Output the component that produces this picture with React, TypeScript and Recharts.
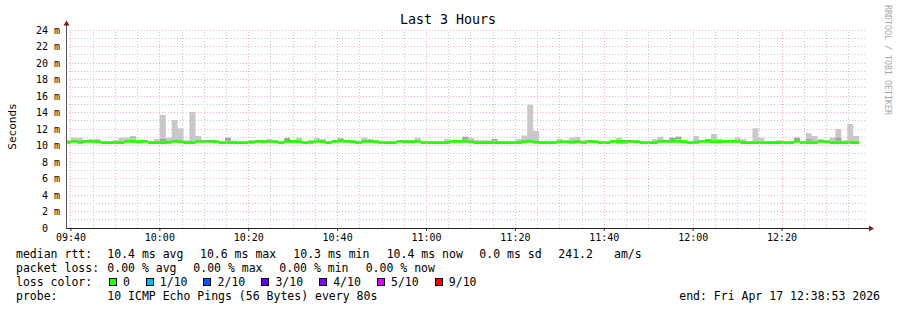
import React from 'react'
import { ComposedChart, Area, XAxis, YAxis, ReferenceLine } from 'recharts'

// rrd step and time window, seconds after midnight
const STEP = 80
const FIRST_SAMPLE = 9 * 3600 + 38 * 60 + 40
const START = 9 * 3600 + 38 * 60 + 53
const END = 12 * 3600 + 38 * 60 + 53

// median rtt per step, ms
const median = [
	10.4, 10.5, 10.4, 10.5, 10.5, 10.45, 10.35, 10.35, 10.35, 10.35, 10.5, 10.5, 10.45, 10.5, 10.35, 10.35, 10.35, 10.4, 10.5, 10.45, 10.35, 10.35, 10.5, 10.5, 10.5, 10.45, 10.35,
	10.35, 10.35, 10.35, 10.35, 10.4, 10.5, 10.45, 10.5, 10.45, 10.35, 10.5, 10.5, 10.45, 10.35, 10.4, 10.5, 10.45, 10.35, 10.5, 10.55, 10.5, 10.45, 10.35, 10.5, 10.5, 10.45, 10.35,
	10.35, 10.35, 10.5, 10.45, 10.45, 10.5, 10.35, 10.35, 10.35, 10.35, 10.35, 10.5, 10.5, 10.5, 10.45, 10.35, 10.35, 10.35, 10.35, 10.35, 10.35, 10.35, 10.35, 10.45, 10.5, 10.4, 10.35,
	10.35, 10.35, 10.45, 10.45, 10.4, 10.45, 10.35, 10.5, 10.45, 10.35, 10.35, 10.5, 10.5, 10.5, 10.5, 10.45, 10.35, 10.35, 10.35, 10.5, 10.5, 10.5, 10.5, 10.45, 10.35, 10.4, 10.5,
	10.5, 10.45, 10.45, 10.5, 10.5, 10.5, 10.35, 10.35, 10.35, 10.35, 10.35, 10.35, 10.35, 10.35, 10.35, 10.5, 10.35, 10.35, 10.35, 10.5, 10.45, 10.35, 10.35, 10.35, 10.35, 10.35,
]

// slowest ping per step (top of the smoke), ms
const smokeTop = [
	10.6, 10.95, 10.95, 10.6, 10.8, 10.8, 10.45, 10.45, 10.65, 10.95, 10.95, 11.1, 10.65, 10.6, 10.5, 10.8, 13.7, 10.95, 13.1, 12.1, 10.65, 14.05, 11.15, 10.6, 10.6, 10.55, 10.45,
	10.95, 10.6, 10.45, 10.45, 10.65, 10.6, 10.65, 10.8, 10.65, 10.45, 10.9, 10.6, 10.95, 10.5, 10.65, 10.95, 10.8, 10.45, 10.6, 10.85, 10.6, 10.65, 10.45, 10.95, 10.8, 10.65, 10.45,
	10.45, 10.45, 10.6, 10.65, 10.55, 10.95, 10.45, 10.45, 10.45, 10.45, 10.8, 10.6, 10.65, 11.05, 10.9, 10.65, 10.65, 10.65, 10.8, 10.5, 10.5, 10.5, 10.8, 11.2, 14.95, 11.75, 10.45,
	10.45, 10.45, 10.8, 10.55, 10.95, 11.05, 10.65, 10.6, 10.55, 10.45, 10.45, 10.6, 10.95, 10.6, 10.6, 10.55, 10.45, 10.45, 10.8, 11.05, 10.6, 10.95, 11.05, 10.6, 10.45, 11.15, 10.6,
	10.8, 11.4, 10.8, 10.6, 10.6, 10.95, 10.8, 10.45, 12.1, 10.95, 10.45, 10.45, 10.65, 10.45, 10.45, 10.95, 10.45, 11.5, 11.15, 10.8, 10.65, 10.95, 12.0, 10.65, 12.6, 11.15,
]

// steps where several pings overlap (darker smoke)
const darkSamples = [11, 16, 27, 37, 46, 67, 72, 93, 94, 102, 103, 108, 123, 125, 128, 130]
const darkLow = [10.95, 10.55, 10.6, 10.6, 10.7, 10.75, 10.6, 10.2, 10.2, 10.6, 10.8, 10.6, 10.6, 10.6, 10.6, 10.6]
const darkHigh = [11.1, 10.8, 10.9, 10.9, 10.85, 11.05, 10.8, 10.32, 10.32, 10.95, 11.05, 10.8, 10.95, 10.8, 10.65, 10.95]

const timeTicks = ['09:40', '10:00', '10:20', '10:40', '11:00', '11:20', '11:40', '12:00', '12:20']
const yTicks = [0, 2, 4, 6, 8, 10, 12, 14, 16, 18, 20, 22, 24]
const yMinor = [1, 3, 5, 7, 9, 11, 13, 15, 17, 19, 21, 23]

const lossLabels = ['0', '1/10', '2/10', '3/10', '4/10', '5/10', '9/10']
const lossColors = ['#26ff00', '#00b8ff', '#0059ff', '#5e00ff', '#7e00ff', '#dd00ff', '#ff0000']

const MONO = '"DejaVu Sans Mono", monospace'
const GREEN = '#26ff00'

const toSec = (s: string) => {
	const [h, m] = s.split(':').map(Number)
	return h * 3600 + m * 60
}
const fmtTime = (v: number) => {
	const h = Math.floor(v / 3600)
	const m = Math.floor((v % 3600) / 60)
	return `${String(h).padStart(2, '0')}:${String(m).padStart(2, '0')}`
}

const majorTimes = timeTicks.map(toSec)
const minorTimes: number[] = []
for (let t = majorTimes[0]; t <= END; t += 300) {
	if (!majorTimes.includes(t)) minorTimes.push(t)
}

const rows = median.map((m, i) => {
	const d = darkSamples.indexOf(i)
	return {
		t: FIRST_SAMPLE + i * STEP,
		smoke: [m - 0.1, Math.max(smokeTop[i], m)],
		dark: d >= 0 ? [darkLow[d], darkHigh[d]] : [m, m],
		med: [m - 0.18, m + 0.18],
	}
})
const lastRow = rows[rows.length - 1]
const data = [...rows, { ...lastRow, t: lastRow.t + STEP }]

// layout
const W = 897
const H = 310
const PLOT_LEFT = 66
const PLOT_TOP = 30
const PLOT_RIGHT = 866
const PLOT_BOTTOM = 228
const Y_AXIS_W = 60
const X_AXIS_H = 30

const CHAR_W = 7.0
const legendFont = { fontFamily: MONO, fontSize: 11.5, fill: '#000', whiteSpace: 'pre' as const }

const Overlay = () => {
	let x = 108.7
	const loss = lossLabels.map((label, i) => {
		const item = { box: x, text: x + 14.3, label, color: lossColors[i] }
		x = item.text + label.length * CHAR_W + 15.5
		return item
	})
	return (
		<svg width={W} height={H} style={{ position: 'absolute', left: 0, top: 0, pointerEvents: 'none' }}>
			<text x={448} y={24} textAnchor="middle" style={{ fontFamily: MONO, fontSize: 13.3, fill: '#000' }}>Last 3 Hours</text>
			<text x={16} y={126.5} textAnchor="middle" transform="rotate(-90 16 126.5)" style={{ fontFamily: MONO, fontSize: 11, fill: '#000' }}>Seconds</text>
			<text x={885} y={5} transform="rotate(90 885 5)" style={{ fontFamily: MONO, fontSize: 8.3, fill: '#a8a8a8' }}>RRDTOOL / TOBI OETIKER</text>

			<line x1={PLOT_LEFT + 0.5} y1={PLOT_BOTTOM + 0.5} x2={PLOT_LEFT + 0.5} y2={24} stroke="#555" />
			<line x1={PLOT_LEFT} y1={PLOT_BOTTOM + 0.5} x2={PLOT_RIGHT + 4} y2={PLOT_BOTTOM + 0.5} stroke="#222" />
			<polygon points={`${PLOT_LEFT - 2.5},25.5 ${PLOT_LEFT + 3.5},25.5 ${PLOT_LEFT + 0.5},20.5`} fill="#8b1a1a" />
			<polygon points={`${PLOT_RIGHT + 3},${PLOT_BOTTOM - 2.5} ${PLOT_RIGHT + 3},${PLOT_BOTTOM + 3.5} ${PLOT_RIGHT + 8},${PLOT_BOTTOM + 0.5}`} fill="#8b1a1a" />

			<text x={16} y={258} style={legendFont}>median rtt:</text>
			<text x={107.3} y={258} style={legendFont}>10.4 ms avg</text>
			<text x={200} y={258} style={legendFont}>10.6 ms max</text>
			<text x={293.3} y={258} style={legendFont}>10.3 ms min</text>
			<text x={386.7} y={258} style={legendFont}>10.4 ms now</text>
			<text x={479.3} y={258} style={legendFont}>0.0 ms sd</text>
			<text x={558.3} y={258} style={legendFont}>241.2</text>
			<text x={614} y={258} style={legendFont}>am/s</text>

			<text x={16} y={272} style={legendFont}>packet loss:</text>
			<text x={107.3} y={272} style={legendFont}>0.00 % avg</text>
			<text x={193.3} y={272} style={legendFont}>0.00 % max</text>
			<text x={279.3} y={272} style={legendFont}>0.00 % min</text>
			<text x={365.7} y={272} style={legendFont}>0.00 % now</text>

			<text x={16} y={286} style={legendFont}>loss color:</text>
			{loss.map((l) => (
				<g key={l.label}>
					<rect x={Math.round(l.box) + 0.5} y={278.5} width={7} height={7} fill={l.color} stroke="#000" />
					<text x={l.text} y={286} style={legendFont}>{l.label}</text>
				</g>
			))}

			<text x={16} y={300} style={legendFont}>probe:</text>
			<text x={107.3} y={300} style={legendFont}>10 ICMP Echo Pings (56 Bytes) every 80s</text>
			<text x={880} y={300} textAnchor="end" style={legendFont}>end: Fri Apr 17 12:38:53 2026</text>
		</svg>
	)
}

const App = () => {
	return (
		<div style={{ position: 'absolute', left: 0, top: 0, width: W, height: H, background: '#fff' }}>
			<ComposedChart
				width={W}
				height={H}
				data={data}
				margin={{
					top: PLOT_TOP,
					right: W - PLOT_RIGHT,
					bottom: H - PLOT_BOTTOM - X_AXIS_H,
					left: PLOT_LEFT - Y_AXIS_W,
				}}
			>
				<XAxis
					dataKey="t"
					type="number"
					domain={[START, END]}
					allowDataOverflow
					ticks={majorTimes}
					tickFormatter={fmtTime}
					height={X_AXIS_H}
					axisLine={false}
					tickLine={{ stroke: '#333' }}
					tickSize={3}
					tickMargin={3}
					tick={{ fontFamily: MONO, fontSize: 10, fill: '#000' }}
				/>
				<YAxis
					type="number"
					domain={[0, 24]}
					ticks={yTicks}
					interval={0}
					tickFormatter={(v: number) => (v === 0 ? '0\u00a0\u00a0' : `${v} m`)}
					width={Y_AXIS_W}
					axisLine={false}
					tickLine={false}
					tickSize={2}
					tickMargin={4}
					tick={{ fontFamily: MONO, fontSize: 10, fill: '#000' }}
				/>
				{yMinor.map((v) => (
					<ReferenceLine key={`hy${v}`} y={v} stroke="#c8c8c8" strokeDasharray="1 2" shapeRendering="crispEdges" />
				))}
				{minorTimes.map((t) => (
					<ReferenceLine key={`vx${t}`} x={t} stroke="#c8c8c8" strokeDasharray="1 2" shapeRendering="crispEdges" />
				))}
				{yTicks.filter((v) => v > 0).map((v) => (
					<ReferenceLine key={`hY${v}`} y={v} stroke="#f4b2b2" strokeDasharray="1 2" shapeRendering="crispEdges" />
				))}
				{majorTimes.map((t) => (
					<ReferenceLine key={`vX${t}`} x={t} stroke="#f4b2b2" strokeDasharray="1 2" shapeRendering="crispEdges" />
				))}
				<Area
					type="stepAfter"
					dataKey="smoke"
					stroke="none"
					fill="#c8c8c8"
					fillOpacity={1}
					dot={false}
					activeDot={false}
					isAnimationActive={false}
				/>
				<Area
					type="stepAfter"
					dataKey="dark"
					stroke="none"
					fill="#a2a2a2"
					fillOpacity={1}
					dot={false}
					activeDot={false}
					isAnimationActive={false}
				/>
				<Area
					type="stepAfter"
					dataKey="med"
					stroke="none"
					fill={GREEN}
					fillOpacity={1}
					dot={false}
					activeDot={false}
					isAnimationActive={false}
				/>
			</ComposedChart>
			<Overlay />
		</div>
	)
}

export default App
